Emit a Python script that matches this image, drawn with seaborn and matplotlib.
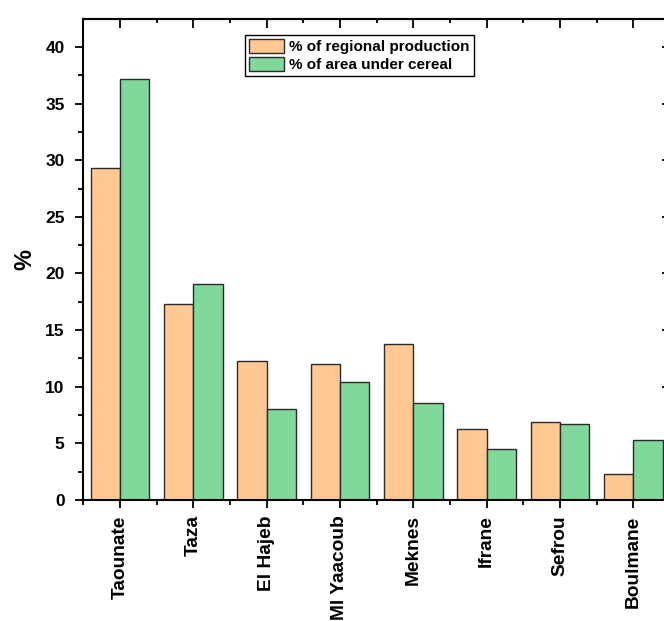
import matplotlib
matplotlib.use("Agg")
import matplotlib.pyplot as plt
from matplotlib.ticker import MultipleLocator, FixedLocator
import seaborn as sns
import pandas as pd

# regional shares per province
provinces = ["Taounate", "Taza", "El Hajeb", "Ml Yaacoub", "Meknes", "Ifrane", "Sefrou", "Boulmane"]
production = [29.3, 17.3, 12.25, 12.0, 13.75, 6.3, 6.9, 2.27]
area = [37.2, 19.1, 8.0, 10.45, 8.57, 4.47, 6.68, 5.33]
series = ["% of regional production", "% of area under cereal"]
colors = ["#FFC893", "#80D89B"]


def main():
    sns.set_style("ticks")
    plt.rcParams["font.family"] = ["Liberation Sans", "DejaVu Sans"]
    plt.rcParams["font.weight"] = "bold"
    for key in ["text.color", "axes.labelcolor", "xtick.color", "ytick.color", "axes.edgecolor"]:
        plt.rcParams[key] = "black"

    df = pd.DataFrame({
        "Province": provinces * 2,
        "Value": production + area,
        "Series": [series[0]] * len(provinces) + [series[1]] * len(provinces),
    })

    fig = plt.figure(figsize=(6.64, 6.21), dpi=100)
    # axes run a little past the right edge, as in the reference crop
    ax = fig.add_axes([83.3 / 664, 121 / 621, 586.7 / 664, 481 / 621])

    sns.barplot(data=df, x="Province", y="Value", hue="Series", order=provinces,
                hue_order=series, palette=colors, saturation=1, width=0.8,
                edgecolor="#2a2a2a", linewidth=1.0, ax=ax)

    ax.set_xlim(-0.5, len(provinces) - 0.5)
    ax.set_ylim(0, 42.47)
    ax.set_xlabel("")
    ax.set_ylabel("%", fontsize=17, fontweight="bold", labelpad=6)

    ax.yaxis.set_major_locator(MultipleLocator(5))
    ax.yaxis.set_minor_locator(MultipleLocator(2.5))
    ax.xaxis.set_minor_locator(FixedLocator([i - 0.5 for i in range(len(provinces) + 1)]))
    ax.set_xticks(range(len(provinces)))
    ax.set_xticklabels(provinces, rotation=90, fontsize=13.8, fontweight="bold")
    for lab in ax.get_yticklabels():
        lab.set_fontsize(12.5)
        lab.set_fontweight("bold")

    ax.tick_params(axis="both", which="major", direction="out", length=6, width=1.3, color="black")
    ax.tick_params(axis="both", which="minor", direction="out", length=3.5, width=1.3, color="black")
    ax.tick_params(axis="x", which="major", pad=5)
    ax.tick_params(axis="y", which="major", pad=7.5)

    for sp in ax.spines.values():
        sp.set_visible(True)
        sp.set_linewidth(1.5)
        sp.set_color("black")

    # inward ticks on the top and right spines
    top = ax.secondary_xaxis("top")
    top.set_xticks(range(len(provinces)))
    top.xaxis.set_minor_locator(FixedLocator([i - 0.5 for i in range(len(provinces) + 1)]))
    top.tick_params(which="major", direction="in", length=6.5, width=1.3, labeltop=False)
    top.tick_params(which="minor", direction="in", length=3, width=1.3)
    top.spines["top"].set_linewidth(1.5)

    right = ax.secondary_yaxis("right")
    right.yaxis.set_major_locator(MultipleLocator(5))
    right.yaxis.set_minor_locator(MultipleLocator(2.5))
    right.tick_params(which="major", direction="in", length=6, width=1.3, labelright=False)
    right.tick_params(which="minor", direction="in", length=3.5, width=1.3)

    leg = ax.legend(loc="upper left", bbox_to_anchor=(0.2755, 0.967), borderaxespad=0,
                    frameon=True, fancybox=False, edgecolor="black", framealpha=1,
                    prop={"size": 11, "weight": "bold"}, handlelength=2.3, handleheight=1.05,
                    handletextpad=0.35, labelspacing=0.18, borderpad=0.25)
    leg.get_frame().set_linewidth(1.0)

    fig.savefig("out.png", dpi=100)
    plt.close(fig)


if __name__ == "__main__":
    main()
